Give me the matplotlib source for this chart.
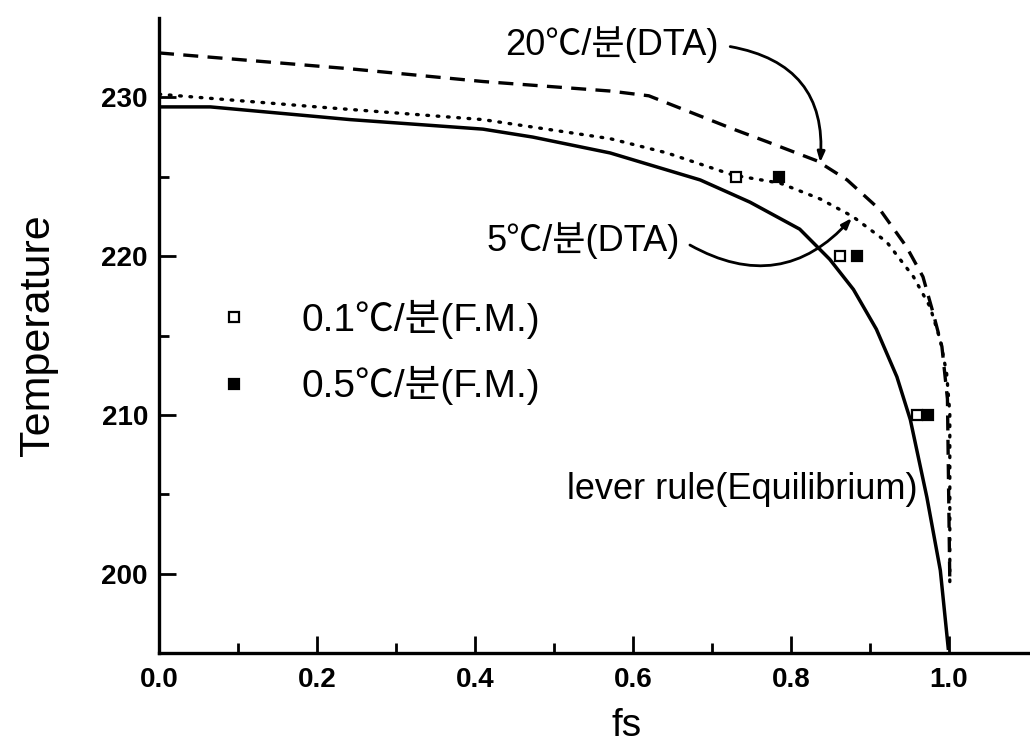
import matplotlib
matplotlib.use("Agg")
import matplotlib.pyplot as plt

plt.rcParams['font.family'] = ['Liberation Sans', 'Noto Sans CJK KR', 'DejaVu Sans']

# lever rule (equilibrium) curve
lever_fs = [0.0, 0.065, 0.242, 0.41, 0.473, 0.571, 0.685, 0.748, 0.811, 0.849, 0.879, 0.908,
            0.934, 0.951, 0.972, 0.989, 0.999]
lever_T = [229.4, 229.4, 228.6, 228.0, 227.5, 226.5, 224.8, 223.4, 221.7, 219.8, 217.9, 215.4,
           212.4, 209.7, 204.8, 200.2, 195.3]

# 5 C/min DTA (dotted)
dta5_fs = [0.0, 0.2, 0.41, 0.571, 0.643, 0.727, 0.786, 0.837, 0.878, 0.921, 0.955, 0.976,
           0.989, 0.997, 1.001, 1.001]
dta5_T = [230.2, 229.4, 228.6, 227.4, 226.5, 225.1, 224.6, 223.6, 222.5, 220.9, 218.7, 216.8,
          214.7, 212.6, 210.1, 199.4]

# 20 C/min DTA (dashed)
dta20_fs = [0.0, 0.242, 0.41, 0.571, 0.62, 0.727, 0.77, 0.833, 0.871, 0.913, 0.946, 0.967,
            0.98, 0.991, 0.998, 1.001]
dta20_T = [232.8, 231.8, 231.0, 230.4, 230.1, 228.0, 227.2, 226.0, 224.8, 222.9, 220.6, 218.7,
           216.4, 214.3, 211.0, 199.4]

# F.M. measurements
fm01_fs = [0.73, 0.862, 0.96]
fm01_T = [225.0, 220.0, 210.0]
fm05_fs = [0.785, 0.883, 0.974]
fm05_T = [225.0, 220.0, 210.0]

fig = plt.figure(figsize=(10.3, 7.44), dpi=100)
ax = fig.add_axes([0.1544, 0.1223, 0.8456, 0.8535])

ax.plot(lever_fs, lever_T, color='black', lw=2.5, ls='-')
ax.plot(dta5_fs, dta5_T, color='black', lw=2.4, ls=(0, (0.5, 2.6)), dash_capstyle='round')
ax.plot(dta20_fs, dta20_T, color='black', lw=2.4, ls=(0, (4.5, 2.8)))

h1, = ax.plot(fm01_fs, fm01_T, ls='none', marker='s', ms=6.5, mfc='white', mec='black', mew=1.6,
              label='0.1℃/분(F.M.)')
h2, = ax.plot(fm05_fs, fm05_T, ls='none', marker='s', ms=6.5, mfc='black', mec='black', mew=1.6,
              label='0.5℃/분(F.M.)')

ax.set_xlim(0, 1.1025)
ax.set_ylim(195, 235)
ax.set_xticks([0.0, 0.2, 0.4, 0.6, 0.8, 1.0])
ax.set_xticks([0.1, 0.3, 0.5, 0.7, 0.9], minor=True)
ax.set_yticks([200, 210, 220, 230])
ax.set_yticks([205, 215, 225], minor=True)
ax.tick_params(which='both', direction='in', width=2, labelsize=20)
ax.tick_params(which='major', length=12)
ax.tick_params(which='minor', length=7)
for lab in ax.get_xticklabels() + ax.get_yticklabels():
    lab.set_fontweight('bold')
ax.tick_params(axis='x', pad=10)
ax.tick_params(axis='y', pad=8)

for s in ['top', 'right']:
    ax.spines[s].set_visible(False)
for s in ['left', 'bottom']:
    ax.spines[s].set_linewidth(2.4)

ax.set_xlabel('fs', fontsize=28)
ax.set_ylabel('Temperature', fontsize=31)
ax.xaxis.set_label_coords(0.537, -0.087)
ax.yaxis.set_label_coords(-0.116, 0.5)

leg = ax.legend(handles=[h1, h2], loc='upper left', bbox_to_anchor=(0.064, 0.556),
                frameon=False, fontsize=28, handlelength=1.0, handletextpad=1.23,
                borderaxespad=0, borderpad=0, labelspacing=0.7, markerscale=1.2)

arrow_style = dict(arrowstyle='-|>,head_length=0.6,head_width=0.22', color='black', lw=2,
                   shrinkA=0, shrinkB=0)

ax.text(0.438, 233.3, '20℃/분(DTA)', fontsize=26, ha='left', va='center')
ax.annotate('', xy=(0.837, 225.9), xytext=(0.723, 233.2),
            arrowprops=dict(connectionstyle='arc3,rad=-0.45', **arrow_style))

ax.text(0.415, 221.0, '5℃/분(DTA)', fontsize=26, ha='left', va='center')
ax.annotate('', xy=(0.877, 222.4), xytext=(0.672, 220.7),
            arrowprops=dict(connectionstyle='arc3,rad=0.4', **arrow_style))

ax.text(0.516, 205.3, 'lever rule(Equilibrium)', fontsize=26, ha='left', va='center')

fig.savefig('out.png', dpi=100)
